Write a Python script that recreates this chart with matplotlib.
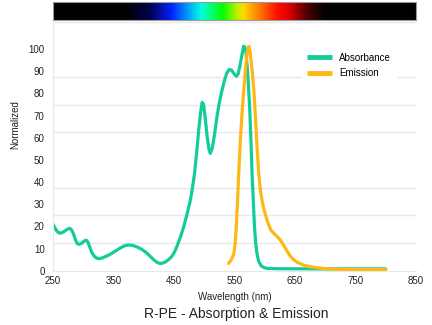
import matplotlib
matplotlib.use('Agg')
import matplotlib.pyplot as plt
import numpy as np
from matplotlib.colors import LinearSegmentedColormap

plt.rcParams['font.family'] = ['Liberation Sans', 'DejaVu Sans']

# absorbance spectrum (wavelength nm, normalized)
abs_wl = [250, 253, 256, 259, 262, 266, 270, 274, 278, 281, 284, 287, 290, 293, 297,
          301, 305, 308, 311, 314, 318, 322, 326, 332, 340, 347, 355, 362, 369, 375,
          382, 390, 397, 404, 411, 417, 422, 426, 431, 436, 441, 446, 451, 456, 461,
          466, 471, 476, 480, 484, 488, 491, 494, 496.5, 499, 502, 505, 508, 510, 513,
          517, 521, 525, 529, 533, 537, 541, 545, 549, 553, 556, 559, 562, 565, 567,
          569, 571, 573, 575, 577, 579, 581, 583, 585, 587, 590, 594, 599, 605, 620,
          700, 800]
abs_val = [21.0, 19.5, 18.0, 17.2, 16.9, 17.3, 18.0, 18.8, 19.1, 18.3, 16.5, 14.0, 12.3, 11.9, 12.3,
           13.3, 13.8, 12.8, 10.5, 8.3, 6.6, 5.7, 5.4, 5.8, 6.8, 7.8, 9.2, 10.4, 11.3, 11.6,
           11.4, 10.6, 9.6, 8.2, 6.4, 4.8, 3.8, 3.3, 3.4, 4.0, 5.0, 6.3, 8.5, 11.8, 15.5,
           19.8, 25.0, 30.5, 36.4, 44.0, 55.0, 64.0, 71.5, 76.0, 75.0, 68.0, 60.0, 54.5, 53.0, 55.0,
           61.5, 69.5, 76.0, 81.0, 85.5, 89.0, 90.8, 90.6, 89.0, 87.8, 88.8, 92.5, 97.0, 101.3, 101.0,
           98.5, 92.0, 84.0, 74.0, 60.0, 44.0, 32.0, 20.0, 12.5, 8.0, 4.2, 2.2, 1.4, 1.0, 0.9,
           0.8, 0.8]

# emission spectrum
em_wl = [540, 543, 546, 549, 551, 553, 555, 557, 559, 561, 563, 565.4, 568, 570.5, 573.7,
         576, 578.5, 582, 584.5, 587, 590, 593, 596, 599, 603, 607, 610, 615, 620, 626,
         631, 637, 643, 648, 654, 660, 668, 676, 687, 698, 715, 740, 770, 800]
em_val = [3.3, 4.2, 5.6, 7.8, 12.0, 20.0, 31.0, 44.0, 55.0, 65.0, 73.5, 81.5, 91.0, 97.5, 101.3,
          98.5, 92.0, 81.5, 70.0, 57.0, 44.0, 36.0, 31.0, 27.4, 23.5, 20.3, 18.4, 16.8, 15.6, 13.8,
          11.5, 8.8, 6.3, 4.9, 3.8, 3.0, 2.2, 1.7, 1.3, 1.0, 0.7, 0.5, 0.5, 0.5]

# visible spectrum colour stops for the bar on top
spec_wl = [250, 370, 410, 445, 470, 495, 510, 530, 555, 565, 590, 620, 640, 670, 700, 850]
spec_col = ['#000000', '#000000', '#000050', '#0020ff', '#0090ff', '#00ffe0', '#00ff80',
            '#00ff00', '#c0f000', '#ffd800', '#ff8000', '#ff1000', '#e00000', '#500000',
            '#000000', '#000000']

x_ticks = [250, 350, 450, 550, 650, 750, 850]
y_ticks = list(range(0, 101, 10))

abs_color = '#14cc9a'
em_color = '#fdb813'
grid_color = '#e8e8e8'

fig = plt.figure(figsize=(4.32, 3.25), dpi=100)
ax = fig.add_axes([53 / 432, 1 - 270.7 / 325, 363 / 432, 249.2 / 325])

ax.plot(abs_wl, abs_val, color=abs_color, lw=2.3, label='Absorbance',
        solid_capstyle='round', solid_joinstyle='round')
ax.plot(em_wl, em_val, color=em_color, lw=2.3, label='Emission',
        solid_capstyle='round', solid_joinstyle='round')

ax.set_xlim(250, 850)
ax.set_ylim(0, 112.5)
ax.set_xticks(x_ticks)
ax.set_yticks(y_ticks)
ax.set_xticks(np.arange(250, 851, 100), minor=True)
ax.set_yticks(np.arange(0, 112.6, 12.5), minor=True)
ax.grid(False)
ax.grid(which='minor', color=grid_color, lw=1)
ax.tick_params(which='both', length=0, labelsize=7, colors='#222222')
ax.tick_params(axis='y', pad=6)
ax.tick_params(axis='x', pad=4)
for side in ['top', 'right']:
    ax.spines[side].set_visible(False)
for side in ['left', 'bottom']:
    ax.spines[side].set_color(grid_color)
ax.set_axisbelow(True)

ax.set_xlabel('Wavelength (nm)', fontsize=7, color='#222222', labelpad=4)
fig.text(15 / 432, 1 - 125 / 325, 'Normalized', rotation=90, fontsize=7,
         color='#222222', ha='center', va='center')
fig.text(236 / 432, 1 - 314 / 325, 'R-PE - Absorption & Emission', fontsize=10,
         color='#222222', ha='center', va='center')

leg = ax.legend(loc='upper left', bbox_to_anchor=(302 / 432, 1 - 48 / 325),
                bbox_transform=fig.transFigure, fontsize=7, frameon=True,
                fancybox=False, edgecolor='white', framealpha=1, borderaxespad=0,
                handlelength=2.6, borderpad=0.5, labelspacing=0.55, handletextpad=0.7)
for line in leg.get_lines():
    line.set_linewidth(3.5)
    line.set_solid_capstyle('butt')

# spectrum bar
bar = fig.add_axes([53 / 432, 1 - 20 / 325, 363 / 432, 17.7 / 325])
pos = [(w - spec_wl[0]) / (spec_wl[-1] - spec_wl[0]) for w in spec_wl]
cmap = LinearSegmentedColormap.from_list('spec', list(zip(pos, spec_col)))
bar.imshow(np.linspace(0, 1, 600)[None, :], aspect='auto', cmap=cmap,
           extent=[250, 850, 0, 1])
bar.set_xticks([])
bar.set_yticks([])
for s in bar.spines.values():
    s.set_color('#999999')
    s.set_linewidth(0.8)

fig.savefig('out.png', dpi=100)
